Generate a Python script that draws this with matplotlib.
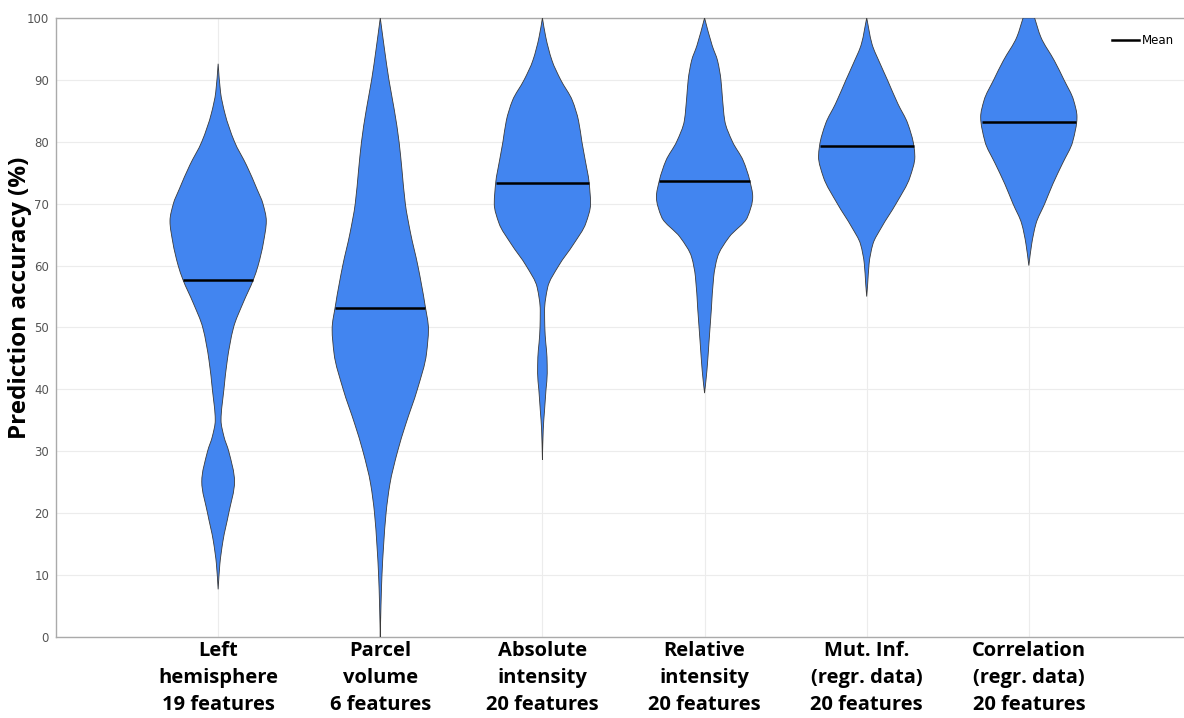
import numpy as np
import matplotlib
matplotlib.use("Agg")
import matplotlib.pyplot as plt
from matplotlib.path import Path
from matplotlib.patches import PathPatch
from matplotlib.lines import Line2D

# groups along the x axis
categories = [
    "Left\nhemisphere\n19 features",
    "Parcel\nvolume\n6 features",
    "Absolute\nintensity\n20 features",
    "Relative\nintensity\n20 features",
    "Mut. Inf.\n(regr. data)\n20 features",
    "Correlation\n(regr. data)\n20 features",
]

# mean prediction accuracy (%) per group
means = [57.7, 53.2, 73.4, 73.7, 79.3, 83.2]

# density profile of each violin: accuracy level (%) and relative half-width (0..1)
left_y = [7.7, 11.7, 15.5, 20.0, 25.1, 30.0, 32.4, 35.0, 40.0, 44.7, 50.0, 54.0,
          57.7, 60.0, 63.7, 67.2, 70.0, 72.3, 76.2, 80.0, 84.6, 88.0, 92.6]
left_w = [0.0, 0.035, 0.10, 0.22, 0.34, 0.22, 0.12, 0.06, 0.12, 0.19, 0.32, 0.52,
          0.73, 0.83, 0.94, 1.0, 0.93, 0.81, 0.59, 0.34, 0.14, 0.05, 0.0]

parcel_y = [0.0, 5.2, 10.0, 14.9, 20.0, 24.7, 30.0, 34.4, 40.0, 45.8, 49.7, 53.6,
            60.0, 65.2, 70.0, 75.5, 80.0, 85.2, 90.0, 94.8, 100.0]
parcel_w = [0.0, 0.015, 0.035, 0.07, 0.12, 0.20, 0.36, 0.53, 0.77, 0.96, 1.0, 0.93,
            0.78, 0.63, 0.52, 0.45, 0.39, 0.29, 0.18, 0.09, 0.0]

absolute_y = [28.6, 33.5, 36.7, 40.0, 42.6, 45.2, 47.5, 50.0, 52.7, 56.5, 60.0, 63.5,
              66.8, 70.0, 73.4, 77.0, 80.0, 83.4, 86.7, 90.0, 93.1, 96.9, 100.0]
absolute_w = [0.0, 0.017, 0.045, 0.075, 0.10, 0.095, 0.07, 0.05, 0.045, 0.11, 0.34, 0.65,
              0.90, 1.0, 0.97, 0.89, 0.82, 0.75, 0.62, 0.38, 0.20, 0.07, 0.0]

relative_y = [39.4, 43.1, 47.4, 52.8, 58.2, 61.4, 64.6, 67.8, 71.1, 73.7, 77.0, 80.0,
              83.4, 87.2, 90.0, 93.1, 95.5, 100.0]
relative_w = [0.0, 0.05, 0.09, 0.14, 0.19, 0.27, 0.51, 0.89, 1.0, 0.94, 0.80, 0.58,
              0.42, 0.37, 0.34, 0.27, 0.16, 0.0]

mutinf_y = [55.0, 57.0, 60.3, 63.5, 66.2, 70.0, 74.3, 77.6, 79.3, 83.0, 86.1, 90.0,
            92.6, 95.8, 100.0]
mutinf_w = [0.0, 0.02, 0.05, 0.13, 0.31, 0.61, 0.90, 1.0, 0.98, 0.85, 0.65, 0.43,
            0.28, 0.11, 0.0]

corr_y = [60.0, 63.5, 66.8, 70.0, 73.2, 76.5, 80.0, 84.0, 86.7, 90.0, 93.1,
          96.9, 100.0]
corr_w = [0.0, 0.06, 0.15, 0.33, 0.50, 0.70, 0.91, 1.0, 0.93, 0.73, 0.53,
          0.25, 0.12]

profiles = [
    (left_y, left_w),
    (parcel_y, parcel_w),
    (absolute_y, absolute_w),
    (relative_y, relative_w),
    (mutinf_y, mutinf_w),
    (corr_y, corr_w),
]

FILL = "#4285f0"
EDGE = "#3a3a3a"
MAX_HW = 0.297


def pchip_slopes(x, y):
    """Fritsch-Carlson slopes for a shape-preserving cubic through (x, y)."""
    h = np.diff(x)
    d = np.diff(y) / h
    m = np.zeros_like(y)
    for k in range(1, len(y) - 1):
        if d[k - 1] * d[k] > 0:
            w1 = 2 * h[k] + h[k - 1]
            w2 = h[k] + 2 * h[k - 1]
            m[k] = (w1 + w2) / (w1 / d[k - 1] + w2 / d[k])
    m[0] = d[0]
    m[-1] = d[-1]
    return m


def violin_path(center, ys, hw):
    """Outline of a violin as cubic Bezier segments, right side up, left side down."""
    ys = np.asarray(ys, dtype=float)
    hw = np.asarray(hw, dtype=float)
    m = pchip_slopes(ys, hw)
    verts = [(center + hw[0], ys[0])]
    codes = [Path.MOVETO]
    n = len(ys)
    for k in range(n - 1):
        h = ys[k + 1] - ys[k]
        verts += [(center + hw[k] + m[k] * h / 3, ys[k] + h / 3),
                  (center + hw[k + 1] - m[k + 1] * h / 3, ys[k + 1] - h / 3),
                  (center + hw[k + 1], ys[k + 1])]
        codes += [Path.CURVE4] * 3
    verts.append((center - hw[-1], ys[-1]))
    codes.append(Path.LINETO)
    for k in range(n - 1, 0, -1):
        h = ys[k] - ys[k - 1]
        verts += [(center - hw[k] + m[k] * h / 3, ys[k] - h / 3),
                  (center - hw[k - 1] - m[k - 1] * h / 3, ys[k - 1] + h / 3),
                  (center - hw[k - 1], ys[k - 1])]
        codes += [Path.CURVE4] * 3
    verts.append(verts[0])
    codes.append(Path.CLOSEPOLY)
    return Path(verts, codes)


fig = plt.figure(figsize=(11.84, 7.18), dpi=100)
ax = fig.add_axes([0.0473, 0.1128, 0.9527, 0.8622])

ax.set_xlim(-1, 5.957)
ax.set_ylim(0, 100)

for i, (ys, ws) in enumerate(profiles):
    hw = np.asarray(ws, dtype=float) * MAX_HW
    patch = PathPatch(violin_path(i, ys, hw), facecolor=FILL,
                      edgecolor=EDGE, linewidth=0.6, zorder=3)
    ax.add_patch(patch)

    m = means[i]
    mhw = np.interp(m, ys, hw)
    ax.hlines(m, i - mhw, i + mhw, color="black", linewidth=1.8, zorder=4)

# grid
ax.set_yticks(np.arange(0, 101, 10))
ax.set_xticks(range(len(categories)))
ax.set_xticklabels(categories)
ax.grid(True, color="#ececec", linewidth=0.8, zorder=0)
ax.set_axisbelow(True)

for side in ["left", "bottom", "top"]:
    ax.spines[side].set_color("#aaaaaa")
    ax.spines[side].set_linewidth(1.0)
ax.spines["right"].set_visible(False)

ax.tick_params(axis="y", length=0, labelsize=8.5, labelcolor="#555555", pad=5)
ax.tick_params(axis="x", length=0, pad=3)
for lab in ax.get_xticklabels():
    lab.set_fontfamily(["Open Sans", "DejaVu Sans"])
    lab.set_fontweight("bold")
    lab.set_fontsize(14.5)
    lab.set_linespacing(1.45)

fig.text(20 / 1184, 1 - 298 / 718, "Prediction accuracy (%)", rotation=90,
         ha="center", va="center", fontsize=17.5, fontweight="bold",
         family=["Open Sans", "DejaVu Sans"])

handle = Line2D([0], [0], color="black", linewidth=1.8)
ax.legend([handle], ["Mean"], loc="upper right", frameon=False, fontsize=8.5,
          handlelength=2.3, handletextpad=0.2, bbox_to_anchor=(0.997, 0.985),
          borderaxespad=0.2)

fig.savefig("out.png", dpi=100)
